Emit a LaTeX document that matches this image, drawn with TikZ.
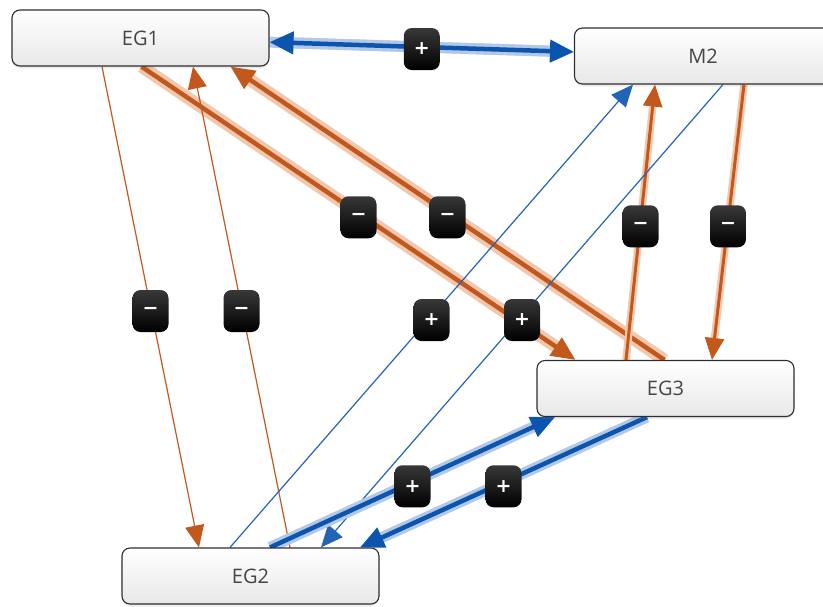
\documentclass[tikz,border=0pt]{standalone}
\usepackage{fontspec}
\setmainfont{Open Sans}
\newfontfamily\lblfont{DejaVu Sans}
\usetikzlibrary{arrows.meta,shadows,backgrounds}
\definecolor{eor}{HTML}{C2581C}
\definecolor{eorl}{HTML}{F1C7AE}
\definecolor{ebl}{HTML}{0C55AE}
\definecolor{ebth}{HTML}{2464B6}
\definecolor{ebll}{HTML}{B3C8E6}
\definecolor{txt}{HTML}{454545}
\tikzset{
  box/.style={draw=black!82, line width=1.1pt, rounded corners=8pt,
    top color=white, bottom color=black!9,
    minimum width=257pt, minimum height=56pt, inner sep=0pt,
    font=\fontsize{20}{24}\selectfont, text=txt,
    drop shadow={opacity=0.15, shadow xshift=0pt, shadow yshift=-2.5pt}},
  sign/.style={rounded corners=8pt, minimum width=36pt, minimum height=42pt,
    inner sep=0pt, top color=black!78, bottom color=black, text=white!92,
    font=\lblfont\bfseries\fontsize{19}{19}\selectfont},
  arrtip/.style={-{Triangle[length=22pt,width=19pt]}},
  bigtip/.style={-{Triangle[length=24pt,width=21pt]}},
  thinor/.style={draw=eor, line width=1.2pt, arrtip},
  thinbl/.style={draw=ebth, line width=1.2pt, arrtip},
  medor/.style={draw=eor, line width=3pt, arrtip,
    preaction={draw=eorl, line width=7.5pt, -, shorten >=18pt}},
  thickor/.style={draw=eor, line width=4.5pt, bigtip,
    preaction={draw=eorl, line width=12.5pt, -, shorten >=20pt}},
  thickbl/.style={draw=ebl, line width=4.5pt, bigtip,
    preaction={draw=ebll, line width=11pt, -, shorten >=20pt}},
  mid/.style={coordinate, pos=0.5}
}
\begin{document}
\begin{tikzpicture}[x=1pt, y=-1pt]
\useasboundingbox (0,0) rectangle (823,606);
\node[box] (eg1) at (140.5,38) {EG1};
\node[box] (m2) at (703,56) {M2};
\node[box] (eg3) at (665.5,388.5) {EG3};
\node[box] (eg2) at (250.5,576) {EG2};
\begin{scope}[on background layer]
\draw[thickbl, {Triangle[length=24pt,width=22pt]}-{Triangle[length=24pt,width=22pt]},
  preaction={draw=ebll, line width=11pt, -, shorten >=20pt, shorten <=20pt}]
  (eg1) -- node[mid] (c1) {} (m2);
\draw[thickor] ([xshift=1pt]eg1.south) -- node[mid] (c2) {} ([xshift=-90pt]eg3.north);
\draw[thickor] ([xshift=-1pt]eg3.north) -- node[mid] (c3) {} ([xshift=90pt]eg1.south);
\draw[thinor] ([xshift=-38.5pt]eg1.south) -- node[mid] (c4) {} ([xshift=-51.5pt]eg2.north);
\draw[thinor] ([xshift=39.5pt]eg2.north) -- node[mid] (c5) {} ([xshift=52.5pt]eg1.south);
\draw[medor] ([xshift=41pt]m2.south) -- node[mid] (c6) {} ([xshift=46.5pt]eg3.north);
\draw[medor] ([xshift=-39.5pt]eg3.north) -- node[mid] (c7) {} ([xshift=-48pt]m2.south);
\draw[thinbl] ([xshift=-20.5pt]eg2.north) -- node[mid] (c8) {} ([xshift=-70pt]m2.south);
\draw[thinbl] ([xshift=20pt]m2.south) -- node[mid] (c9) {} ([xshift=70.5pt]eg2.north);
\draw[thickbl] ([xshift=19.5pt]eg2.north) -- node[mid] (c10) {} ([xshift=-110.5pt]eg3.south);
\draw[thickbl] ([xshift=-18.5pt]eg3.south) -- node[mid] (c11) {} ([xshift=109.5pt]eg2.north);
\end{scope}
\node[sign, yshift=-2pt] (l1) at (c1) {+};
\node[sign, yshift=-4pt] (l2) at (c2) {−};
\node[sign, yshift=-4pt] (l3) at (c3) {−};
\node[sign, yshift=-4pt] (l4) at (c4) {−};
\node[sign, yshift=-4pt] (l5) at (c5) {−};
\node[sign, yshift=-4pt] (l6) at (c6) {−};
\node[sign, yshift=-4pt] (l7) at (c7) {−};
\node[sign, yshift=-4pt] (l8) at (c8) {+};
\node[sign, yshift=-4pt] (l9) at (c9) {+};
\node[sign, yshift=-4pt] (l10) at (c10) {+};
\node[sign, yshift=-4pt] (l11) at (c11) {+};
\end{tikzpicture}
\end{document}
